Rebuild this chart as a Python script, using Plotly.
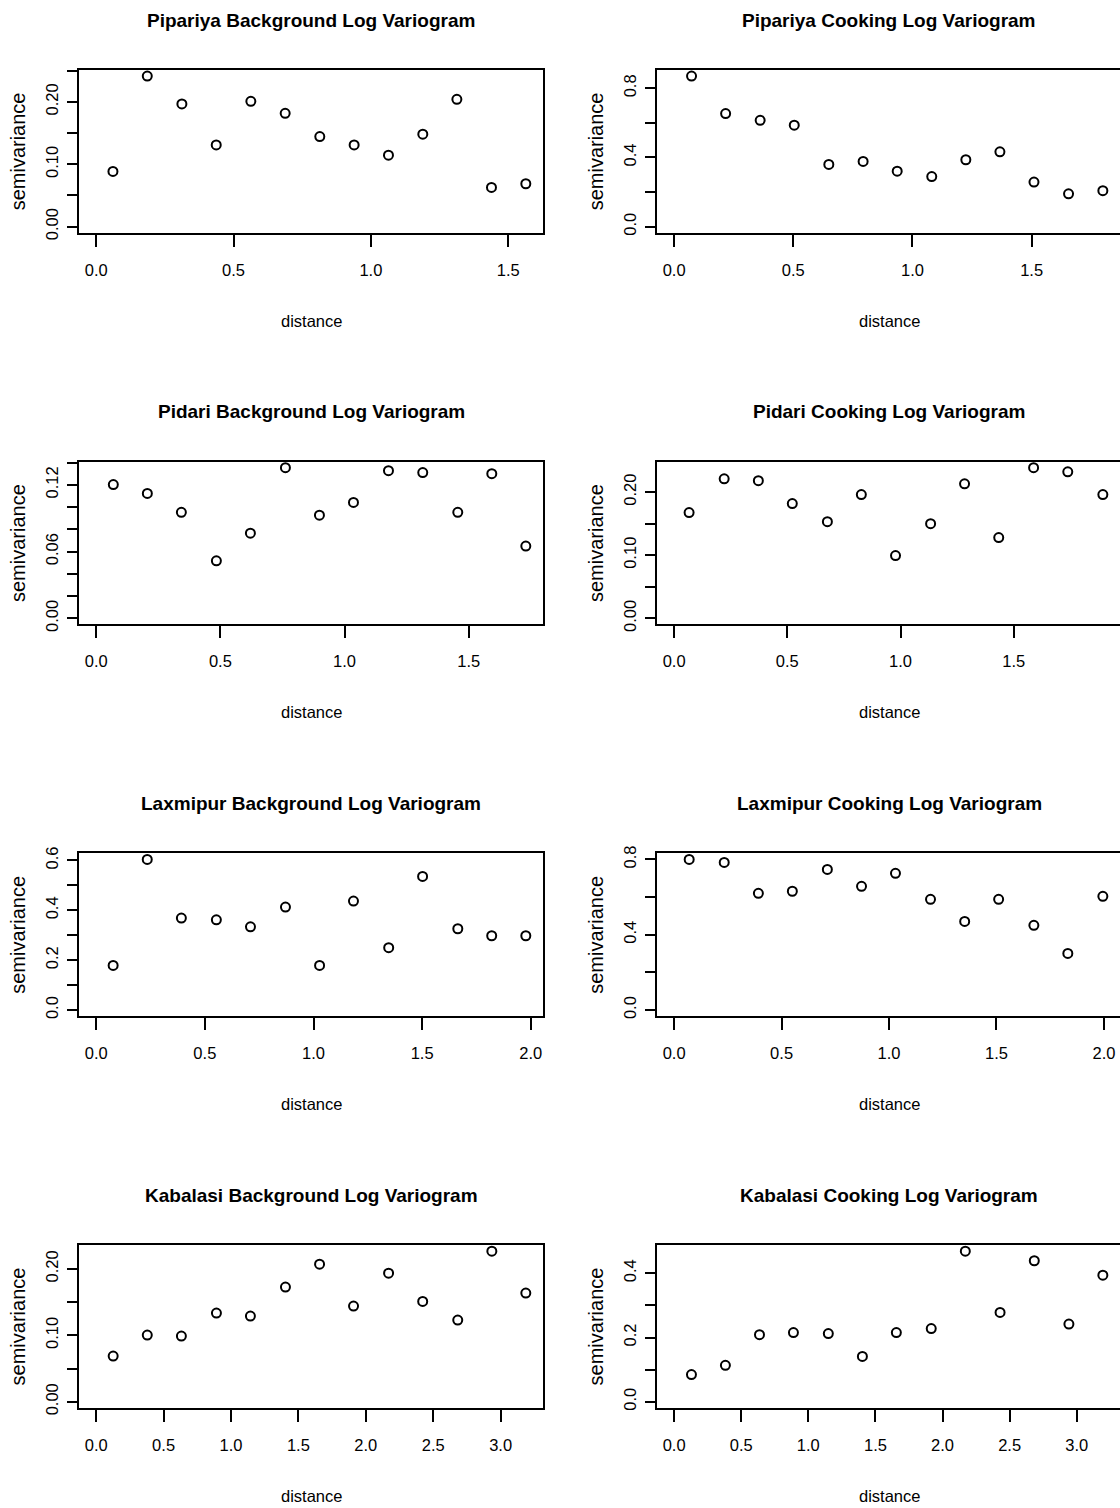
import plotly.graph_objects as go

W, H = 1120, 1508

# ---------------- data ----------------
titles = [
    "Pipariya Background Log Variogram", "Pipariya Cooking Log Variogram",
    "Pidari Background Log Variogram", "Pidari Cooking Log Variogram",
    "Laxmipur Background Log Variogram", "Laxmipur Cooking Log Variogram",
    "Kabalasi Background Log Variogram", "Kabalasi Cooking Log Variogram",
]

pip_bg_dist = [0.061, 0.186, 0.312, 0.437, 0.563, 0.688, 0.814, 0.939, 1.064, 1.189, 1.313, 1.439, 1.564]
pip_bg_gamma = [0.0885, 0.2415, 0.1967, 0.1311, 0.2009, 0.1818, 0.1444, 0.1311, 0.1146, 0.1482, 0.2042, 0.0629, 0.0688]

pip_ck_dist = [0.073, 0.216, 0.361, 0.504, 0.649, 0.793, 0.936, 1.081, 1.224, 1.367, 1.510, 1.655, 1.799]
pip_ck_gamma = [0.871, 0.654, 0.615, 0.587, 0.360, 0.377, 0.321, 0.290, 0.387, 0.433, 0.258, 0.190, 0.208]

pid_bg_dist = [0.069, 0.206, 0.343, 0.484, 0.621, 0.762, 0.899, 1.036, 1.177, 1.315, 1.456, 1.593, 1.730]
pid_bg_gamma = [0.1203, 0.1123, 0.0953, 0.0517, 0.0766, 0.1354, 0.0927, 0.1042, 0.1327, 0.1310, 0.0953, 0.1300, 0.0650]

pid_ck_dist = [0.066, 0.221, 0.372, 0.522, 0.677, 0.827, 0.978, 1.133, 1.283, 1.434, 1.588, 1.739, 1.894]
pid_ck_gamma = [0.1675, 0.221, 0.218, 0.1817, 0.153, 0.196, 0.0995, 0.150, 0.213, 0.128, 0.2385, 0.232, 0.196]

lax_bg_dist = [0.078, 0.235, 0.392, 0.553, 0.710, 0.871, 1.028, 1.184, 1.346, 1.502, 1.664, 1.820, 1.977]
lax_bg_gamma = [0.179, 0.604, 0.369, 0.362, 0.334, 0.413, 0.179, 0.437, 0.250, 0.536, 0.326, 0.298, 0.298]

lax_ck_dist = [0.070, 0.233, 0.392, 0.550, 0.713, 0.872, 1.030, 1.193, 1.352, 1.510, 1.674, 1.832, 1.995]
lax_ck_gamma = [0.800, 0.784, 0.620, 0.631, 0.747, 0.657, 0.726, 0.588, 0.471, 0.588, 0.450, 0.301, 0.604]

kab_bg_dist = [0.126, 0.379, 0.632, 0.892, 1.144, 1.404, 1.657, 1.909, 2.169, 2.422, 2.682, 2.935, 3.187]
kab_bg_gamma = [0.0687, 0.1003, 0.0988, 0.1334, 0.1289, 0.1725, 0.2070, 0.1439, 0.1935, 0.1510, 0.1229, 0.2266, 0.1635]

kab_ck_dist = [0.129, 0.382, 0.636, 0.889, 1.149, 1.403, 1.656, 1.916, 2.170, 2.429, 2.684, 2.942, 3.195]
kab_ck_gamma = [0.0847, 0.1134, 0.209, 0.2155, 0.2124, 0.141, 0.2155, 0.2278, 0.469, 0.278, 0.439, 0.242, 0.394]

xticks_15 = [0.0, 0.5, 1.0, 1.5]
xticks_20 = [0.0, 0.5, 1.0, 1.5, 2.0]
xticks_30 = [0.0, 0.5, 1.0, 1.5, 2.0, 2.5, 3.0]

yt_p1 = [0.00, 0.05, 0.10, 0.15, 0.20, 0.25]
yl_p1 = ["0.00", "", "0.10", "", "0.20", ""]
yt_p2 = [0.0, 0.2, 0.4, 0.6, 0.8]
yl_p2 = ["0.0", "", "0.4", "", "0.8"]
yt_p3 = [0.00, 0.02, 0.04, 0.06, 0.08, 0.10, 0.12, 0.14]
yl_p3 = ["0.00", "", "", "0.06", "", "", "0.12", ""]
yt_p4 = [0.00, 0.05, 0.10, 0.15, 0.20]
yl_p4 = ["0.00", "", "0.10", "", "0.20"]
yt_p5 = [0.0, 0.1, 0.2, 0.3, 0.4, 0.5, 0.6]
yl_p5 = ["0.0", "", "0.2", "", "0.4", "", "0.6"]
yt_p6 = [0.0, 0.2, 0.4, 0.6, 0.8]
yl_p6 = ["0.0", "", "0.4", "", "0.8"]
yt_p7 = [0.00, 0.05, 0.10, 0.15, 0.20]
yl_p7 = ["0.00", "", "0.10", "", "0.20"]
yt_p8 = [0.0, 0.1, 0.2, 0.3, 0.4]
yl_p8 = ["0.0", "", "0.2", "", "0.4"]

panels = [
    (pip_bg_dist, pip_bg_gamma, xticks_15, yt_p1, yl_p1),
    (pip_ck_dist, pip_ck_gamma, xticks_15, yt_p2, yl_p2),
    (pid_bg_dist, pid_bg_gamma, xticks_15, yt_p3, yl_p3),
    (pid_ck_dist, pid_ck_gamma, xticks_15, yt_p4, yl_p4),
    (lax_bg_dist, lax_bg_gamma, xticks_20, yt_p5, yl_p5),
    (lax_ck_dist, lax_ck_gamma, xticks_20, yt_p6, yl_p6),
    (kab_bg_dist, kab_bg_gamma, xticks_30, yt_p7, yl_p7),
    (kab_ck_dist, kab_ck_gamma, xticks_30, yt_p8, yl_p8),
]

# ---------------- styling ----------------
FONT = "Liberation Sans, Arial, sans-serif"
tickfont = dict(family=FONT, size=16.5, color="black")

box_left = [79, 657]
box_right = [543, 1121]
row_top0, row_step, box_h = 70.0, 391.7, 162.7

fig = go.Figure()
annotations = []

for i, (dist, gamma, xt, yt, yl) in enumerate(panels):
    row, col = divmod(i, 2)
    top = row_top0 + row_step * row
    bot = top + box_h
    xl, xr = box_left[col], box_right[col]
    n = "" if i == 0 else str(i + 1)
    D = max(dist)
    G = max(gamma)

    fig.add_trace(go.Scatter(
        x=dist, y=gamma, mode="markers",
        xaxis="x" + n, yaxis="y" + n,
        marker=dict(symbol="circle-open", size=9, color="black",
                    line=dict(width=2, color="black")),
        showlegend=False, hoverinfo="skip",
    ))

    fig.layout["xaxis" + n] = dict(
        domain=[xl / W, min(xr / W, 1.0)],
        range=[-0.04 * D, 1.04 * D],
        anchor="y" + n,
        showline=True, linecolor="black", linewidth=2, mirror=True,
        ticks="outside", ticklen=12, tickwidth=2, tickcolor="black",
        tickvals=xt, ticktext=["%.1f" % v for v in xt],
        tickfont=tickfont, ticklabelstandoff=9,
        showgrid=False, zeroline=False,
    )
    fig.layout["yaxis" + n] = dict(
        domain=[1 - bot / H, 1 - top / H],
        range=[-0.04 * G, 1.04 * G],
        anchor="x" + n,
        showline=True, linecolor="black", linewidth=2, mirror=(col == 0),
        ticks="outside", ticklen=10, tickwidth=2, tickcolor="black",
        tickvals=yt, ticktext=yl, tickangle=-90,
        tickfont=tickfont, ticklabelstandoff=2,
        showgrid=False, zeroline=False,
    )

    cx = (xl + xr) / 2 / W
    annotations.append(dict(
        text="<b>%s</b>" % titles[i], x=cx, y=1 - (top - 50) / H,
        xref="paper", yref="paper", xanchor="center", yanchor="middle",
        showarrow=False, font=dict(family=FONT, size=19, color="black"),
    ))
    annotations.append(dict(
        text="distance", x=cx, y=1 - (bot + 88) / H,
        xref="paper", yref="paper", xanchor="center", yanchor="middle",
        showarrow=False, font=dict(family=FONT, size=16.5, color="black"),
    ))
    annotations.append(dict(
        text="semivariance", x=(xl - 61) / W, y=1 - (top + bot) / 2 / H,
        xref="paper", yref="paper", xanchor="center", yanchor="middle",
        textangle=-90,
        showarrow=False, font=dict(family=FONT, size=20, color="black"),
    ))

fig.update_layout(
    width=W, height=H,
    margin=dict(l=0, r=0, t=0, b=0, autoexpand=False),
    paper_bgcolor="white", plot_bgcolor="white",
    annotations=annotations,
    showlegend=False,
)

fig.write_html("out.html", config={"displayModeBar": False})
